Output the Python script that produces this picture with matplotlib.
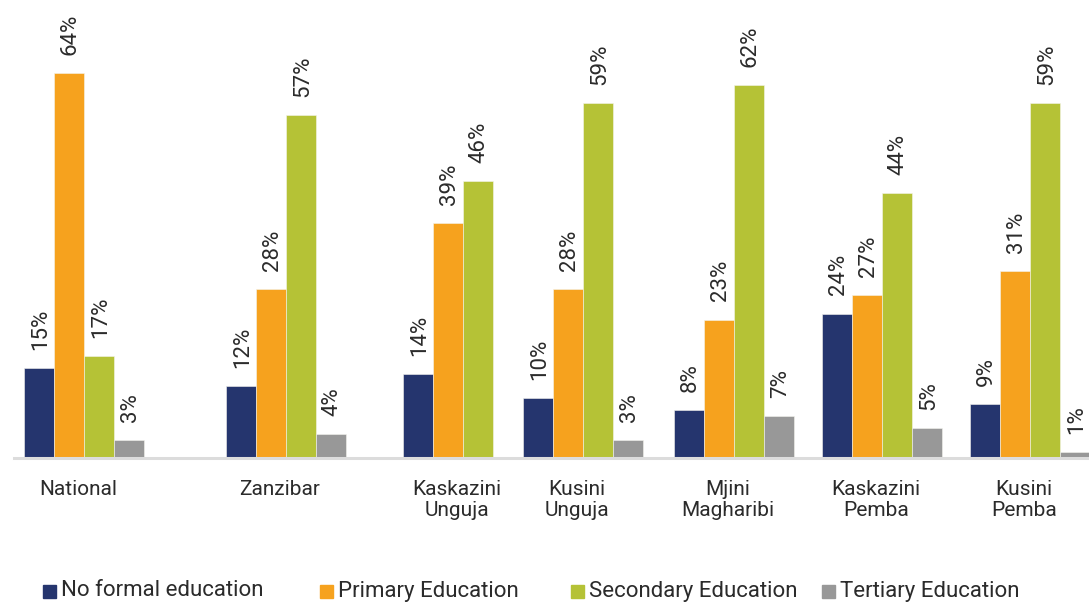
import numpy as np
import matplotlib
matplotlib.use("Agg")
import matplotlib.pyplot as plt
from matplotlib.patches import Rectangle

# ---- data -------------------------------------------------------------
regions = ["National", "Zanzibar", "Kaskazini\nUnguja", "Kusini\nUnguja",
           "Mjini\nMagharibi", "Kaskazini\nPemba", "Kusini\nPemba"]
series_names = ["No formal education", "Primary Education",
                "Secondary Education", "Tertiary Education"]
no_formal = [15, 12, 14, 10, 8, 24, 9]
primary = [64, 28, 39, 28, 23, 27, 31]
secondary = [17, 57, 46, 59, 62, 44, 59]
tertiary = [3, 4, np.nan, 3, 7, 5, 1]   # no tertiary figure for Kaskazini Unguja

# ---- style / layout ---------------------------------------------------
colors = ["#25356e", "#f6a21e", "#b5c236", "#989898"]
text_color = "#2b2b2b"
W, H = 1089, 602
group_left = [24, 226, 403, 523, 674, 822, 970]   # left edge of each group (px units)
bar_w = 30
label_shift = -6
plt.rcParams["font.family"] = ["Roboto", "DejaVu Sans"]

fig = plt.figure(figsize=(W / 100, H / 100), dpi=100)
ax = fig.add_axes([14 / W, (H - 458) / H, 1 - 14 / W, 458 / H])
ax.set_xlim(14, W)
ax.set_ylim(0, 458 / 6.02)

all_series = [no_formal, primary, secondary, tertiary]
lefts = np.array(group_left, dtype=float)
for i, (vals, col) in enumerate(zip(all_series, colors)):
    xs = lefts + i * bar_w + bar_w / 2
    vals = np.array(vals, dtype=float)
    ok = ~np.isnan(vals)
    ax.bar(xs[ok], vals[ok], width=bar_w, color=col,
           edgecolor="#f4f4ee", linewidth=0.4, clip_on=True)
    for x, v in zip(xs[ok], vals[ok]):
        ax.annotate(f"{v:.0f}%", (x, v), xytext=(1, 13), textcoords="offset points",
                    rotation=90, ha="center", va="bottom", fontsize=16,
                    color=text_color, annotation_clip=False)

# axes cosmetics
for s in ["top", "right", "left"]:
    ax.spines[s].set_visible(False)
ax.spines["bottom"].set_color("#dcdcdc")
ax.spines["bottom"].set_linewidth(2.2)
ax.set_yticks([])
ax.set_xticks(lefts + 2 * bar_w + label_shift)
ax.set_xticklabels(regions, fontsize=15, color=text_color, linespacing=1.15)
ax.tick_params(axis="x", length=0, pad=16)

# legend row
legend_sq = [43, 320, 571, 822]
leg_y = 591
sq = 13
for name, col, x0 in zip(series_names, colors, legend_sq):
    fig.patches.append(Rectangle((x0 / W, (H - leg_y - sq / 2) / H), sq / W, sq / H,
                                 transform=fig.transFigure, color=col))
    fig.text((x0 + sq + 5) / W, (H - leg_y) / H, name, ha="left", va="center",
             fontsize=16, color=text_color)

fig.savefig("out.png", dpi=100)
